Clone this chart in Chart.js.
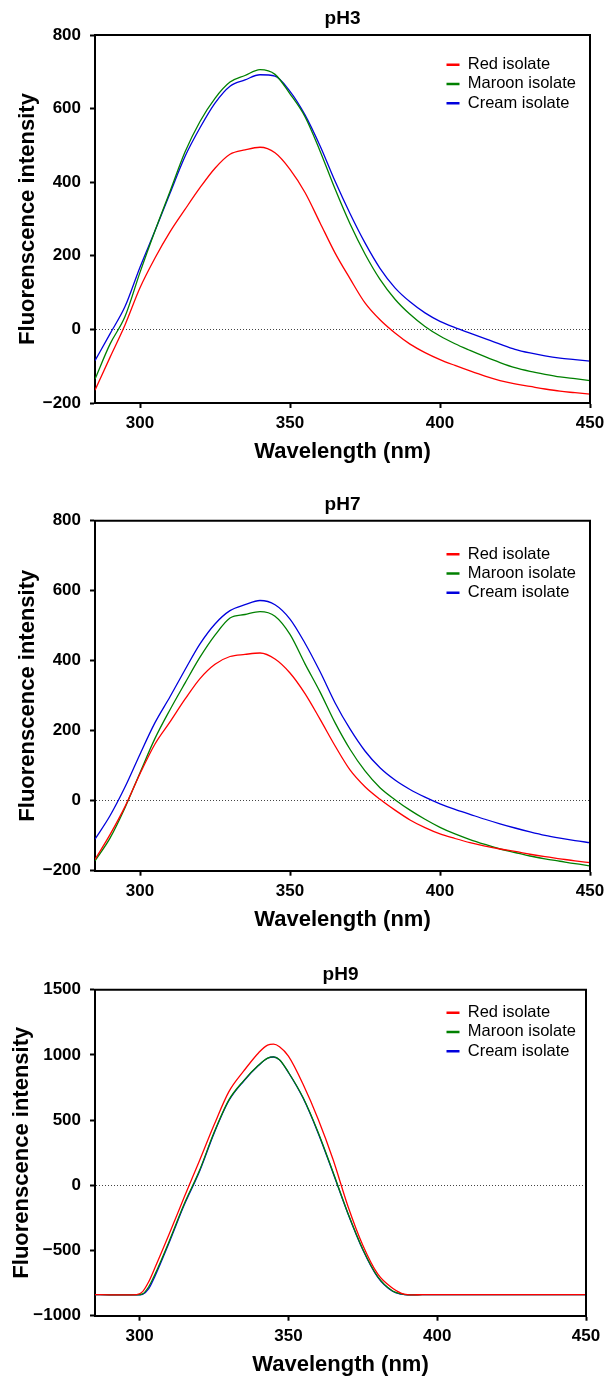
<!DOCTYPE html>
<html>
<head>
<meta charset="utf-8">
<script src="https://cdn.jsdelivr.net/npm/chart.js@4/dist/chart.umd.min.js"></script>
<style>
html, body { margin: 0; padding: 0; background: #ffffff; overflow: hidden; width: 614px; height: 1377px; }
canvas { position: absolute; left: 0; }
</style>
</head>
<body>
<canvas id="c1" width="614" height="470" style="top:0px"></canvas>
<canvas id="c2" width="614" height="452" style="top:486px"></canvas>
<canvas id="c3" width="614" height="424" style="top:956px"></canvas>
<script>
// ---------- data ----------
const seriesLabels = ['Red isolate', 'Maroon isolate', 'Cream isolate'];
const seriesColors = ['#ff0000', '#008000', '#0000dd'];

const xTicks = [300, 350, 400, 450];
const yTicksPH3 = [-200, 0, 200, 400, 600, 800];
const yTicksPH7 = [-200, 0, 200, 400, 600, 800];
const yTicksPH9 = [-1000, -500, 0, 500, 1000, 1500];

const wavelengths = [285, 290, 295, 300, 305, 310, 315, 320, 325, 330, 335, 340, 345, 350, 355, 360, 365,
  370, 375, 380, 385, 390, 395, 400, 405, 410, 415, 420, 425, 430, 435, 440, 445, 450];

const ph3Red = [-165, -76, 12, 113, 194, 265, 326, 385, 438, 476, 488, 495, 480, 435, 372, 290, 208,
  138, 72, 26, -10, -40, -63, -82, -98, -113, -127, -139, -148, -155, -162, -168, -172, -176];
const ph3Maroon = [-135, -40, 35, 155, 268, 375, 482, 565, 628, 672, 690, 706, 693, 640, 578, 485, 382,
  287, 205, 136, 82, 41, 8, -18, -39, -57, -74, -90, -104, -114, -122, -129, -134, -139];
const ph3Cream = [-85, -12, 62, 169, 268, 370, 470, 548, 615, 661, 678, 692, 688, 647, 583, 499, 403,
  315, 235, 166, 113, 75, 45, 22, 5, -10, -25, -40, -54, -64, -72, -78, -82, -86];

const ph7Red = [-168, -97, -17, 77, 162, 225, 290, 349, 390, 412, 418, 422, 405, 365, 306, 233, 157,
  88, 40, 4, -27, -55, -77, -95, -108, -120, -130, -138, -145, -153, -160, -166, -172, -177];
const ph7Maroon = [-172, -107, -20, 80, 178, 260, 336, 410, 473, 522, 532, 540, 527, 475, 391, 311, 223,
  147, 85, 37, 3, -27, -53, -76, -95, -111, -125, -138, -148, -158, -166, -173, -180, -186];
const ph7Cream = [-110, -43, 39, 133, 223, 297, 374, 448, 505, 543, 560, 572, 560, 519, 450, 369, 280,
  205, 142, 94, 59, 32, 10, -9, -25, -39, -53, -66, -78, -89, -99, -107, -114, -120];

const wavelengthsPH9 = [285, 290, 295, 299, 301, 303, 305, 310, 315, 320, 325, 330, 335, 340, 343, 345, 347,
  350, 355, 360, 365, 370, 375, 380, 385, 388, 390, 392, 395, 400, 410, 420, 430, 440, 450];
const ph9Red = [-838, -840, -841, -839, -815, -742, -640, -370, -90, 183, 462, 718, 877, 1017, 1075, 1082, 1062,
  990, 771, 507, 198, -160, -460, -680, -790, -828, -838, -840, -839, -839, -838, -838, -838, -838, -838];
const ph9Maroon = [-838, -840, -841, -840, -833, -780, -690, -425, -142, 107, 404, 655, 803, 922, 975, 985, 963,
  867, 669, 405, 100, -214, -490, -700, -810, -833, -840, -840, -839, -839, -838, -838, -838, -838, -838];
const ph9Cream = [-838, -840, -841, -841, -836, -795, -705, -435, -150, 100, 398, 650, 800, 920, 974, 984, 962,
  865, 665, 400, 95, -218, -494, -704, -813, -835, -841, -840, -839, -839, -838, -838, -838, -838, -838];

// ---------- helpers ----------
const FONT = "'Liberation Sans', Arial, Helvetica, sans-serif";
function fmt(v) { return v < 0 ? '\u2212' + Math.abs(v) : String(v); }

const framePlugin = {
  id: 'frame',
  beforeDraw(chart, args, opts) {
    const lg = chart.legend;
    if (lg && opts && opts.legendX != null) {
      const dx = opts.legendX - lg.left, dy = opts.legendY - lg.top;
      lg.left += dx; lg.right += dx; lg.top += dy; lg.bottom += dy;
    }
    const tb = chart.titleBlock;
    if (tb) {
      const w = chart.chartArea.right - chart.chartArea.left;
      tb.left = chart.chartArea.left;
      tb.right = chart.chartArea.right;
      tb.width = w;
    }
  },
  afterDraw(chart) {
    const a = chart.chartArea, ctx = chart.ctx;
    ctx.save();
    ctx.strokeStyle = '#000';
    ctx.lineWidth = 2;
    ctx.beginPath();
    ctx.moveTo(a.left - 1, a.top);
    ctx.lineTo(a.right, a.top);
    ctx.lineTo(a.right, a.bottom + 1);
    ctx.stroke();
    ctx.restore();
  }
};

function makeChart(canvasId, o) {
  const datasets = seriesLabels.map((lab, k) => ({
    label: lab,
    data: o.x.map((w, i) => ({ x: w, y: o.series[k][i] })),
    borderColor: seriesColors[k],
    backgroundColor: seriesColors[k],
    borderWidth: 1.3,
    pointRadius: 0,
    fill: false,
    cubicInterpolationMode: 'monotone'
  }));
  return new Chart(document.getElementById(canvasId), {
    type: 'line',
    data: { datasets },
    plugins: [framePlugin],
    options: {
      responsive: false,
      animation: false,
      events: [],
      layout: { padding: { left: 0, right: o.padRight, top: 0, bottom: 0 } },
      plugins: {
        title: {
          display: true, text: o.title, color: '#000',
          font: { family: FONT, size: 19, weight: 'bold' },
          padding: { top: 7.6, bottom: o.titlePadBottom }
        },
        legend: {
          position: 'chartArea', align: 'start',
          labels: {
            usePointStyle: true, pointStyle: 'line', pointStyleWidth: 13, padding: 2.8,
            color: '#000', font: { family: FONT, size: 16.5 },
            generateLabels(chart) {
              const items = Chart.defaults.plugins.legend.labels.generateLabels(chart);
              items.forEach(it => { it.lineWidth = 2.5; it.pointStyle = 'line'; });
              return items;
            }
          }
        },
        tooltip: { enabled: false },
        frame: { legendX: 443.7, legendY: o.legendY }
      },
      scales: {
        x: {
          type: 'linear', min: 285, max: 450,
          afterBuildTicks: s => { s.ticks = xTicks.map(v => ({ value: v })); },
          afterFit: s => { s.height = o.xAxisH; },
          ticks: { color: '#000', padding: 5, font: { family: FONT, size: 17, weight: 'bold' }, maxRotation: 0 },
          grid: { drawOnChartArea: false, tickLength: 5, tickColor: '#000', tickWidth: 2 },
          border: { color: '#000', width: 2 },
          title: {
            display: true, text: 'Wavelength (nm)', color: '#000',
            font: { family: FONT, size: 22, weight: 'bold' },
            padding: { top: 0, bottom: o.xTitlePadBottom }
          }
        },
        y: {
          type: 'linear', min: o.yTicks[0], max: o.yTicks[o.yTicks.length - 1],
          afterBuildTicks: s => { s.ticks = o.yTicks.map(v => ({ value: v })); },
          afterFit: s => { s.width = 95; },
          ticks: { color: '#000', padding: 9, font: { family: FONT, size: 17, weight: 'bold' }, callback: v => fmt(v) },
          grid: {
            drawOnChartArea: true, tickLength: 5, tickColor: '#000', tickWidth: 2, lineWidth: 1,
            color: c => (c.tick && c.tick.value === 0) ? '#444' : 'rgba(0,0,0,0)'
          },
          border: { color: '#000', width: 2, dash: [1, 2] },
          title: {
            display: true, text: 'Fluorenscence intensity', color: '#000',
            font: { family: FONT, size: 22, weight: 'bold' },
            padding: { top: o.yTitlePadTop, bottom: 0 }
          }
        }
      }
    }
  });
}

makeChart('c1', {
  title: 'pH3', x: wavelengths, series: [ph3Red, ph3Maroon, ph3Cream], yTicks: yTicksPH3,
  padRight: 24, titlePadBottom: 4.6, xAxisH: 67, xTitlePadBottom: 5.1, yTitlePadTop: 15.2, legendY: 53.6
});
makeChart('c2', {
  title: 'pH7', x: wavelengths, series: [ph7Red, ph7Maroon, ph7Cream], yTicks: yTicksPH7,
  padRight: 24, titlePadBottom: 4.3, xAxisH: 67.3, xTitlePadBottom: 4.8, yTitlePadTop: 15.2, legendY: 57.2
});
makeChart('c3', {
  title: 'pH9', x: wavelengthsPH9, series: [ph9Red, ph9Maroon, ph9Cream], yTicks: yTicksPH9,
  padRight: 28, titlePadBottom: 3.3, xAxisH: 64.3, xTitlePadBottom: 1.8, yTitlePadTop: 8.8, legendY: 45.6
});
</script>
</body>
</html>
